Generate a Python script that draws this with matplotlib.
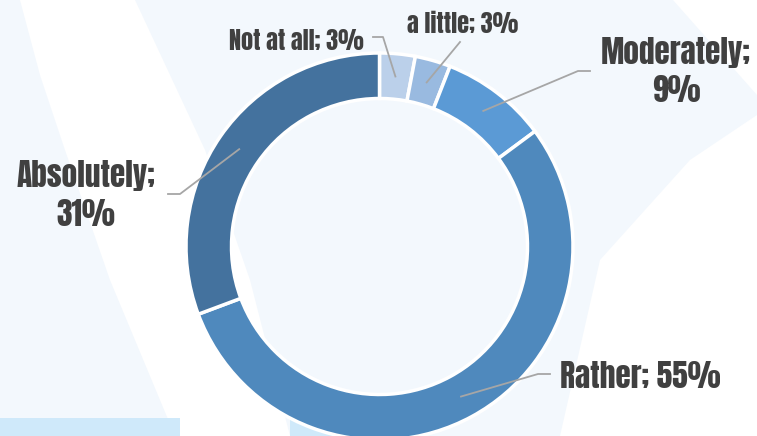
import numpy as np
import matplotlib
matplotlib.use("Agg")
import matplotlib.pyplot as plt
from matplotlib.patches import Polygon, Rectangle

# ---- data ----
categories = ["Not at all", "a little", "Moderately", "Rather", "Absolutely"]
values = [3, 3, 9, 55, 31]
colors = ["#BBD0EA", "#99BAE0", "#5B9AD5", "#4F89BD", "#44729E"]

W, H = 757, 436
fig = plt.figure(figsize=(W / 100, H / 100), dpi=100)
fig.patch.set_facecolor("white")
ax = fig.add_axes([0, 0, 1, 1])

def Y(y):
    return H - y

# ---- decorative background ----
tint = "#F3F8FD"
ax.add_patch(Polygon([(0, Y(0)), (673, Y(0)), (757, Y(95)), (757, Y(115)),
                      (690, Y(160)), (600, Y(260)), (560, Y(436)), (0, Y(436))],
                     closed=True, facecolor=tint, edgecolor="none", zorder=0))
ax.add_patch(Polygon([(20, Y(0)), (40, Y(75)), (65, Y(150)), (110, Y(280)), (175, Y(436)),
                      (290, Y(436)), (250, Y(280)), (205, Y(150)), (170, Y(75)), (135, Y(0))],
                     closed=True, facecolor="white", edgecolor="none", zorder=0.5))
ax.add_patch(Rectangle((0, Y(436)), 180, 18, facecolor="#CFE9FA", edgecolor="none", zorder=0.6))
ax.add_patch(Rectangle((290, Y(436)), 130, 18, facecolor="#CFE9FA", edgecolor="none", zorder=0.6))

# ---- donut ----
cx, cy = 379.5, Y(246.5)
R = 193.5
ring = 45.5
wedges, _ = ax.pie(values, colors=colors, startangle=90, counterclock=False,
                   center=(cx, cy), radius=R, frame=True,
                   wedgeprops=dict(width=ring, edgecolor="white", linewidth=2.5))
for w in wedges:
    w.set_zorder(2)

ax.set_xlim(0, W)
ax.set_ylim(0, H)
ax.set_aspect("equal")
ax.axis("off")

# ---- labels ----
font = ["Anton", "DejaVu Sans"]
tc = "#404040"
lc = "#A6A6A6"
big = 22.5
small = 17.5

def mid_point(i, r):
    w = wedges[i]
    a = np.deg2rad((w.theta1 + w.theta2) / 2)
    return cx + r * np.cos(a), cy + r * np.sin(a)

rm = R - ring / 2

labels = [f"{c}; {v}%" for c, v in zip(categories, values)]
kw = dict(color=tc, family=font, zorder=3)

# Not at all
ax.text(364, Y(50), labels[0], ha="right", va="baseline", fontsize=small, **kw)
px, py = mid_point(0, rm)
ax.plot([373, 383, px], [Y(37), Y(37), py], color=lc, lw=1.3, zorder=3)

# a little
ax.text(463, Y(33), labels[1], ha="center", va="baseline", fontsize=small, **kw)
px, py = mid_point(1, rm)
ax.plot([460, px], [Y(42), py], color=lc, lw=1.3, zorder=3)

# Moderately
ax.text(676, Y(64), f"{categories[2]};", ha="center", va="baseline", fontsize=big, **kw)
ax.text(676, Y(102), f"{values[2]}%", ha="center", va="baseline", fontsize=big, **kw)
px, py = mid_point(2, rm)
ax.plot([590, 578, px], [Y(71), Y(71), py], color=lc, lw=1.3, zorder=3)

# Rather
ax.text(560, Y(388), labels[3], ha="left", va="baseline", fontsize=big, **kw)
px, py = mid_point(3, rm)
ax.plot([550, 538, px], [Y(374), Y(374), py], color=lc, lw=1.3, zorder=3)

# Absolutely
ax.text(86, Y(187), f"{categories[4]};", ha="center", va="baseline", fontsize=big, **kw)
ax.text(86, Y(226), f"{values[4]}%", ha="center", va="baseline", fontsize=big, **kw)
px, py = mid_point(4, rm)
ax.plot([168, 180, px], [Y(194), Y(194), py], color=lc, lw=1.3, zorder=3)

fig.savefig("out.png", dpi=100, facecolor=fig.get_facecolor())
